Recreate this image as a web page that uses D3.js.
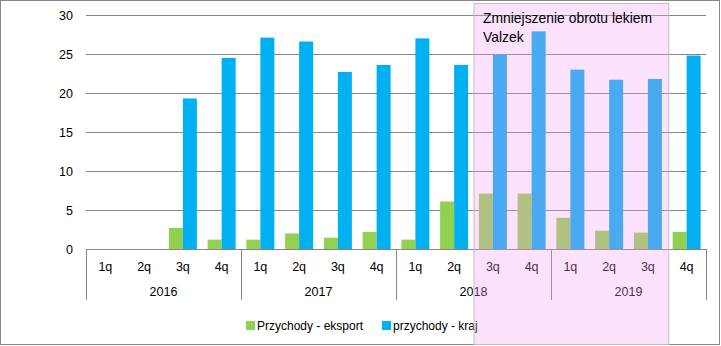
<!DOCTYPE html>
<html>
<head>
<meta charset="utf-8">
<script src="https://cdn.jsdelivr.net/npm/d3@7"></script>
<style>
  html, body { margin: 0; padding: 0; background: #fff; }
  svg { display: block; }
  text { font-family: "Liberation Sans", Arial, sans-serif; fill: #000; }
</style>
</head>
<body>
<svg id="chart" width="721" height="346"></svg>
<script>
// ---- data ----
const years = ["2016", "2017", "2018", "2019"];
const quarters = ["1q", "2q", "3q", "4q"];
const eksport = [0, 0, 2.7, 1.2, 1.2, 2.0, 1.45, 2.2, 1.2, 6.1, 7.1, 7.1, 4.0, 2.35, 2.1, 2.2];
const kraj = [0, 0, 19.3, 24.5, 27.1, 26.6, 22.7, 23.6, 27.0, 23.6, 24.9, 27.9, 23.0, 21.7, 21.8, 24.8];
const yTicks = [0, 5, 10, 15, 20, 25, 30];
const seriesNames = ["Przychody - eksport", "przychody - kraj"];
const seriesColors = ["#92D050", "#00B0F0"];
const annotation = ["Zmniejszenie obrotu lekiem", "Valzek"];
const highlightFrom = 10, highlightTo = 15;

(function () {
const cats = [];
years.forEach(yy => quarters.forEach(q => cats.push(yy + "|" + q)));

const svg = d3.select("#chart");
const pL = 86, pR = 706, pT = 15, pB = 249;

const x = d3.scaleBand().domain(cats).range([pL, pR]).padding(0);
const xYear = d3.scaleBand().domain(years).range([pL, pR]).padding(0);
const y = d3.scaleLinear().domain([0, 30]).range([pB, pT]);
const barW = x.bandwidth() * 0.3613;
const FF = "'Liberation Sans', Arial, sans-serif";

svg.append("rect").attr("x", 0.5).attr("y", 0.5).attr("width", 719).attr("height", 344)
  .attr("fill", "#fff").attr("stroke", "#868686").attr("stroke-width", 1);

const yAxis = d3.axisLeft(y).tickValues(yTicks).tickSize(-(pR - pL)).tickPadding(13);
const gy = svg.append("g").attr("transform", `translate(${pL},0)`).call(yAxis);
gy.select(".domain").remove();
gy.selectAll(".tick line").attr("stroke", "#868686").attr("shape-rendering", "crispEdges");
gy.selectAll(".tick text").attr("font-size", 12.5).style("font-family", FF).attr("fill", "#000");

const gBars = svg.append("g");
gBars.selectAll("rect.eks").data(eksport).join("rect").attr("class", "eks")
  .attr("x", (d, i) => x(cats[i]) + x.bandwidth() / 2 - barW)
  .attr("width", barW)
  .attr("y", d => y(d)).attr("height", d => y(0) - y(d))
  .attr("fill", seriesColors[0]);
gBars.selectAll("rect.kraj").data(kraj).join("rect").attr("class", "kraj")
  .attr("x", (d, i) => x(cats[i]) + x.bandwidth() / 2)
  .attr("width", barW)
  .attr("y", d => y(d)).attr("height", d => y(0) - y(d))
  .attr("fill", seriesColors[1]);

const gx = svg.append("g").attr("transform", `translate(0,${pB})`)
  .call(d3.axisBottom(x).tickSize(0).tickPadding(13).tickFormat(d => d.split("|")[1]));
gx.select(".domain").attr("stroke", "#868686").attr("d", `M${pL},0.5H${pR}`).attr("shape-rendering", "crispEdges");
gx.selectAll(".tick text").attr("font-size", 12.5).style("font-family", FF).attr("fill", "#000");

const gxy = svg.append("g").attr("transform", `translate(0,${pB})`)
  .call(d3.axisBottom(xYear).tickSize(0).tickPadding(38));
gxy.select(".domain").remove();
gxy.selectAll(".tick text").attr("font-size", 12.5).style("font-family", FF).attr("fill", "#000");

const seps = years.map(yy => xYear(yy)).concat([pR]);
svg.append("g").selectAll("line").data(seps).join("line")
  .attr("x1", d => Math.round(d) + 0.5).attr("x2", d => Math.round(d) + 0.5)
  .attr("y1", pB).attr("y2", 300)
  .attr("stroke", "#868686");

const legX = [246, 382];
const lg = svg.append("g");
seriesNames.forEach((n, i) => {
  lg.append("rect").attr("x", legX[i]).attr("y", 321).attr("width", 9).attr("height", 9).attr("fill", seriesColors[i]);
  lg.append("text").attr("x", legX[i] + 11).attr("y", 326).attr("dy", "0.35em")
    .attr("font-size", 12).text(n);
});

const hx0 = x(cats[highlightFrom]) + 0.5;
const hx1 = x(cats[highlightTo - 1]) + x.bandwidth() + 1.5;
svg.append("rect").attr("x", hx0).attr("y", 3.5).attr("width", hx1 - hx0).attr("height", 341)
  .attr("fill", "rgb(248,156,248)").attr("fill-opacity", 0.294)
  .attr("stroke", "#BFBFBF").attr("stroke-width", 1);
const ta = svg.append("text").attr("x", hx0 + 10).attr("y", 22).attr("font-size", 13.9);
annotation.forEach((t, i) => ta.append("tspan").attr("x", hx0 + 9).attr("y", 23 + i * 19).text(t));
})();
</script>
</body>
</html>
